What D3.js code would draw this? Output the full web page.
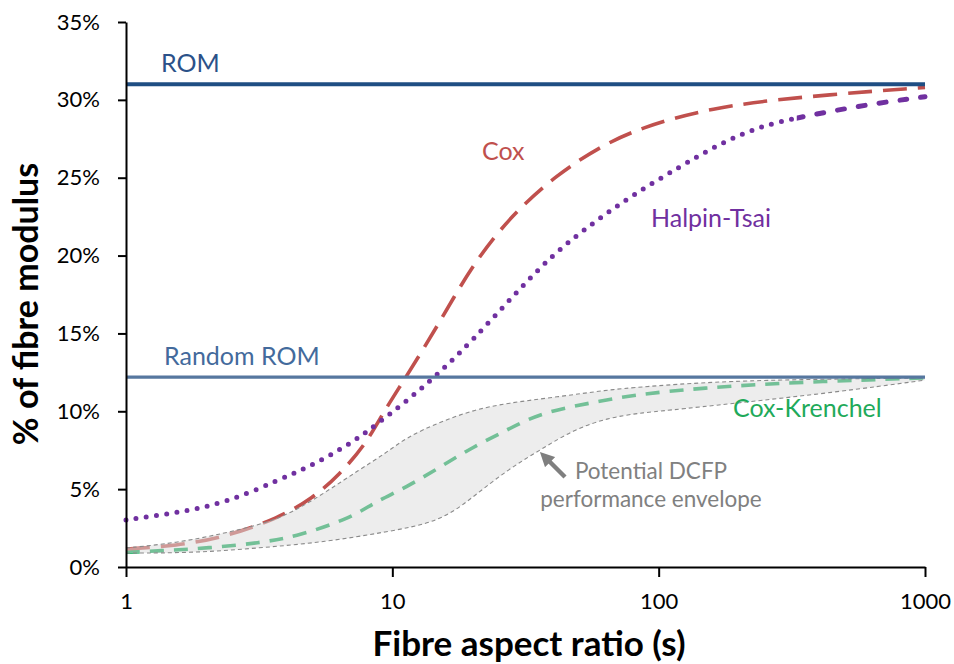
<!DOCTYPE html>
<html><head><meta charset="utf-8">
<script src="https://cdn.jsdelivr.net/npm/d3@7"></script>
<style>body{margin:0;background:#fff}svg{display:block}</style>
</head><body>
<script>
// ---- data (s = fibre aspect ratio, value = % of fibre modulus) ----
const xTicks = [1, 10, 100, 1000];
const yTicks = [0, 5, 10, 15, 20, 25, 30, 35];
const romValue = 31.0;
const randomRomValue = 12.2;
const coxS   = [1, 1.54, 2.37, 3.75, 5.04, 6.31, 7.96, 9.23, 10.97, 14.7, 20.1, 28.4, 41.5, 60.3, 85, 156, 340, 1000];
const coxV   = [1.16, 1.35, 1.93, 3.15, 4.43, 5.9, 7.9, 9.9, 11.9, 15.4, 19.5, 22.7, 25.2, 27.0, 28.2, 29.5, 30.2, 30.8];
const htS    = [1, 1.54, 2.37, 3.75, 5.31, 7.3, 8.46, 11.4, 15.1, 20.1, 28.4, 40.1, 56.7, 80.1, 120, 170, 240, 340, 606, 1000];
const htV    = [3.02, 3.47, 4.11, 5.59, 6.74, 8.16, 8.99, 10.7, 12.5, 14.6, 17.4, 20.1, 22.1, 23.9, 25.7, 27.2, 28.3, 28.9, 29.7, 30.2];
const ckS    = [1, 1.33, 2.05, 3.16, 4.46, 7.12, 8.46, 11.36, 15.1, 20.1, 27.0, 35.8, 55.2, 80.1, 143, 340, 1000];
const ckV    = [0.96, 1.03, 1.22, 1.54, 1.99, 3.21, 4.11, 5.14, 6.42, 7.71, 8.80, 9.89, 10.53, 11.05, 11.5, 11.88, 12.14];
const envUpS = [1, 1.54, 2.37, 3.36, 4.24, 5.64, 7.5, 9.46, 11.36, 15.1, 20.1, 27.0, 41.5, 64.0, 85.1, 190, 1000];
const envUpV = [1.22, 1.54, 2.18, 2.83, 3.53, 4.82, 6.23, 7.32, 8.35, 9.31, 10.08, 10.53, 10.92, 11.37, 11.56, 12.0, 12.14];
const envLoS = [1, 1.78, 3.16, 5.64, 9.46, 15.1, 20.1, 27.0, 35.8, 47.7, 64.0, 85.1, 107, 190, 450, 1000];
const envLoV = [0.90, 0.90, 1.22, 1.61, 2.25, 2.89, 4.50, 6.23, 7.51, 8.80, 9.57, 9.89, 10.05, 10.5, 11.2, 12.0];

const W = 954, H = 664;
const FONT = "Lato, 'Open Sans', sans-serif";
const svg = d3.select("body").append("svg").attr("width", W).attr("height", H)
  .style("font-family", FONT);
const defs = svg.append("defs");

const x = d3.scaleLog().domain([1, 1000]).range([126, 925]);
const y = d3.scaleLinear().domain([0, 35]).range([567, 22]);

const zip = (s, v) => s.map((d, i) => [d, v[i]]);
const line = d3.line().x(d => x(d[0])).y(d => y(d[1])).curve(d3.curveBasis);

// Cox-Krenchel
svg.append("path").attr("d", line(zip(ckS, ckV))).attr("fill", "none")
  .attr("stroke", "#00a24c").attr("stroke-width", 3.6).attr("stroke-dasharray", "14,10");
// Cox
svg.append("path").attr("d", line(zip(coxS, coxV))).attr("fill", "none")
  .attr("stroke", "#c0504d").attr("stroke-width", 3.6).attr("stroke-dasharray", "24,11");
// Halpin-Tsai: dotted, becoming short dashes at the high end
defs.append("clipPath").attr("id", "clipLeft").append("rect")
  .attr("x", 0).attr("y", 0).attr("width", x(330)).attr("height", H);
defs.append("clipPath").attr("id", "clipRight").append("rect")
  .attr("x", x(330)).attr("y", 0).attr("width", W).attr("height", H);
const ht = zip(htS, htV);
svg.append("path").attr("d", line(ht)).attr("fill", "none")
  .attr("stroke", "#7030a0").attr("stroke-width", 5).attr("stroke-linecap", "round")
  .attr("stroke-dasharray", "0,10.3")
  .attr("clip-path", "url(#clipLeft)");
svg.append("path").attr("d", line(ht)).attr("fill", "none")
  .attr("stroke", "#7030a0").attr("stroke-width", 5).attr("stroke-linecap", "round")
  .attr("stroke-dasharray", "7,14")
  .attr("clip-path", "url(#clipRight)");

// envelope (semi-transparent overlay)
const up = zip(envUpS, envUpV), lo = zip(envLoS, envLoV);
const upD = line(up), loRevD = line(lo.slice().reverse());
svg.append("path")
  .attr("d", upD + "L" + loRevD.slice(1) + "Z")
  .attr("fill", "rgba(220,220,220,0.52)").attr("stroke", "none");
svg.append("path").attr("d", upD).attr("fill", "none")
  .attr("stroke", "#8a8a8a").attr("stroke-width", 1.1).attr("stroke-dasharray", "4,3");
svg.append("path").attr("d", line(lo)).attr("fill", "none")
  .attr("stroke", "#8a8a8a").attr("stroke-width", 1.1).attr("stroke-dasharray", "4,3");

// ROM lines
svg.append("line").attr("x1", x(1)).attr("x2", x(1000)).attr("y1", y(romValue)).attr("y2", y(romValue))
  .attr("stroke", "#1f4e83").attr("stroke-width", 4);
svg.append("line").attr("x1", x(1)).attr("x2", x(1000)).attr("y1", y(randomRomValue)).attr("y2", y(randomRomValue))
  .attr("stroke", "#56779f").attr("stroke-width", 3.2);

// axes
const yAxis = svg.append("g").attr("transform", `translate(${x(1)},0)`)
  .call(d3.axisLeft(y).tickValues(yTicks).tickFormat(d => d + "%").tickSize(8).tickSizeOuter(0).tickPadding(18));
const xAxis = svg.append("g").attr("transform", `translate(0,${y(0)})`)
  .call(d3.axisBottom(x).tickValues(xTicks).tickFormat(d3.format("d")).tickSize(10).tickSizeOuter(0).tickPadding(16));
[yAxis, xAxis].forEach(g => {
  g.select(".domain").attr("stroke", "#000").attr("stroke-width", 2);
  g.selectAll(".tick line").attr("stroke", "#000").attr("stroke-width", 2);
  g.selectAll(".tick text").attr("fill", "#000").style("font-size", "22px").style("font-family", FONT);
});

// axis titles
svg.append("text").attr("x", 529).attr("y", 656).attr("text-anchor", "middle")
  .style("font-size", "35px").style("font-weight", "bold").text("Fibre aspect ratio (s)");
svg.append("text").attr("transform", "translate(38,304) rotate(-90)").attr("text-anchor", "middle")
  .style("font-size", "34px").style("font-weight", "bold").text("% of fibre modulus");

// series labels
const lab = (t, xx, yy, c, size, anchor = "start") => svg.append("text").attr("x", xx).attr("y", yy)
  .attr("fill", c).attr("text-anchor", anchor).style("font-size", size + "px").text(t);
lab("ROM", 161, 72, "#2b5189", 25);
lab("Cox", 482, 160, "#c0504d", 25);
lab("Halpin-Tsai", 651, 227, "#7030a0", 25);
lab("Random ROM", 164, 365, "#436a9c", 25);
lab("Cox-Krenchel", 733, 417, "#1faa5a", 25);
lab("Potential DCFP", 651, 479, "#808080", 22.5, "middle");
lab("performance envelope", 651, 507, "#808080", 22.5, "middle");

// arrow
defs.append("marker").attr("id", "ah").attr("viewBox", "0 0 10 10").attr("refX", 5).attr("refY", 5)
  .attr("markerWidth", 3.2).attr("markerHeight", 3.2).attr("orient", "auto")
  .append("path").attr("d", "M0,0L10,5L0,10Z").attr("fill", "#7f7f7f");
svg.append("line").attr("x1", 565).attr("y1", 477).attr("x2", 545).attr("y2", 457)
  .attr("stroke", "#7f7f7f").attr("stroke-width", 4.5).attr("marker-end", "url(#ah)");
</script>
</body></html>
